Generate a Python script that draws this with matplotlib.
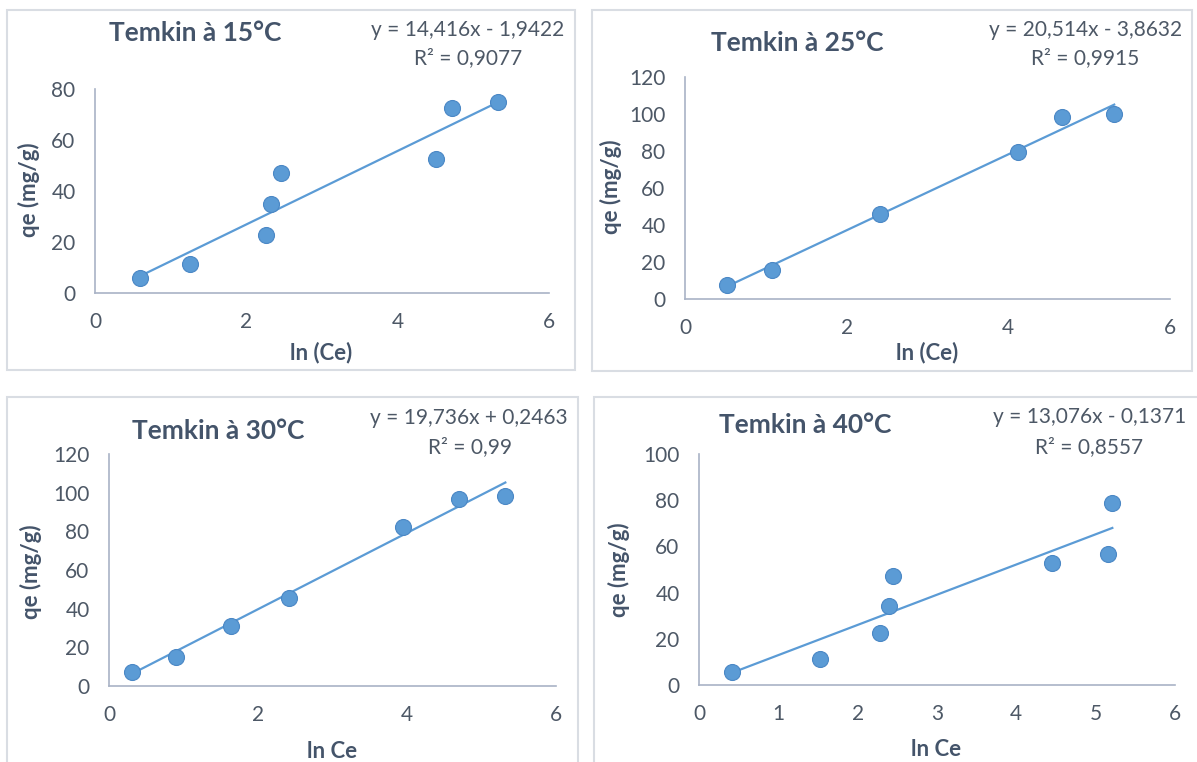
import matplotlib
matplotlib.use("Agg")
import matplotlib.pyplot as plt
from matplotlib.patches import Rectangle

plt.rcParams['font.family'] = ['Lato', 'DejaVu Sans']

W, H = 1197, 762

# data: ln(Ce) and qe (mg/g)
x15 = [0.60, 1.26, 2.26, 2.32, 2.46, 4.51, 4.72, 5.32]
y15 = [5.9, 11.5, 22.7, 34.9, 47.2, 52.6, 72.4, 74.8]
x25 = [0.52, 1.08, 2.41, 4.12, 4.67, 5.31]
y25 = [7.7, 15.6, 46.2, 79.6, 98.4, 100.1]
x30 = [0.31, 0.90, 1.64, 2.42, 3.94, 4.70, 5.32]
y30 = [7.2, 15.2, 31.2, 45.7, 82.4, 96.7, 98.4]
x40 = [0.41, 1.52, 2.28, 2.40, 2.45, 4.45, 5.16, 5.21]
y40 = [5.5, 11.2, 22.5, 34.4, 47.0, 53.0, 56.5, 79.0]

titles = ["Temkin à 15°C", "Temkin à 25°C", "Temkin à 30°C", "Temkin à 40°C"]
slopes = [14.416, 20.514, 19.736, 13.076]
intercepts = [-1.9422, -3.8632, 0.2463, -0.1371]
eq_texts = ["y = 14,416x - 1,9422", "y = 20,514x - 3,8632",
            "y = 19,736x + 0,2463", "y = 13,076x - 0,1371"]
r2_texts = ["R² = 0,9077", "R² = 0,9915", "R² = 0,99", "R² = 0,8557"]
xlabels = ["ln (Ce)", "ln (Ce)", "ln Ce", "ln Ce"]
ymaxs = [80, 120, 120, 100]
xsteps = [2, 2, 2, 1]

xs = [x15, x25, x30, x40]
ys = [y15, y25, y30, y40]

# layout in pixels: (left, right, top, bottom) of plot area, panel box, text spots
axes_px = [(95, 549, 89, 293), (685, 1170, 77, 299),
           (109, 556, 454, 686), (699, 1175, 454, 685)]
boxes_px = [(7, 575, 10, 370), (592, 1192, 10, 371),
            (7, 578, 397, 770), (594, 1200, 397, 770)]
title_px = [(195, 33), (797, 43), (218, 431), (805, 425)]
eq_px = [(564, 30), (1182, 30), (568, 418), (1186, 417)]
r2_px = [(468, 58), (1085, 58), (470, 447), (1089, 447)]
ylab_px = [(29, 190), (611, 187), (31, 572), (619, 570)]
xlab_px = [(321, 353), (927, 353), (332, 751), (936, 749)]

text_col = '#44546A'
tick_col = '#4D5866'
blue = '#5B9BD5'

fig = plt.figure(figsize=(W / 100, H / 100), dpi=100)

def fx(px):
    return px / W

def fy(py):
    return 1 - py / H

for i in range(4):
    bl, br, bt, bb = boxes_px[i]
    fig.patches.append(Rectangle((fx(bl), fy(bb)), fx(br - bl), (bb - bt) / H,
                                 transform=fig.transFigure, fill=False,
                                 edgecolor='#D9DDE3', linewidth=1.5))

    l, r, t, b = axes_px[i]
    ax = fig.add_axes([fx(l), fy(b), fx(r - l), (b - t) / H])
    ax.set_xlim(0, 6)
    ax.set_ylim(0, ymaxs[i])
    ax.set_xticks(range(0, 7, xsteps[i]))
    ax.set_yticks(range(0, ymaxs[i] + 1, 20))
    for s in ['top', 'right']:
        ax.spines[s].set_visible(False)
    for s in ['left', 'bottom']:
        ax.spines[s].set_color('#A9B3C6')
        ax.spines[s].set_linewidth(1.2)
    ax.tick_params(length=0, pad=14, labelsize=15, labelcolor=tick_col)
    ax.patch.set_alpha(0)

    x = xs[i]
    y = ys[i]
    x0, x1 = min(x), max(x)
    ax.plot([x0, x1], [slopes[i] * x0 + intercepts[i], slopes[i] * x1 + intercepts[i]],
            color=blue, linewidth=1.6, zorder=2)
    ax.plot(x, y, 'o', color=blue, markersize=11.5, markeredgecolor='#4A87C5',
            markeredgewidth=0.8, zorder=3, clip_on=False)

    fig.text(fx(title_px[i][0]), fy(title_px[i][1]), titles[i], ha='center', va='center',
             fontsize=19, fontweight='bold', color=text_col)
    fig.text(fx(eq_px[i][0]), fy(eq_px[i][1]), eq_texts[i], ha='right', va='center',
             fontsize=15, color=tick_col)
    fig.text(fx(r2_px[i][0]), fy(r2_px[i][1]), r2_texts[i], ha='center', va='center',
             fontsize=15, color=tick_col)
    fig.text(fx(ylab_px[i][0]), fy(ylab_px[i][1]), "qe (mg/g)", ha='center', va='center',
             rotation=90, fontsize=16, fontweight='bold', color=text_col)
    fig.text(fx(xlab_px[i][0]), fy(xlab_px[i][1]), xlabels[i], ha='center', va='center',
             fontsize=16, fontweight='bold', color=text_col)

fig.savefig('out.png', dpi=100)
